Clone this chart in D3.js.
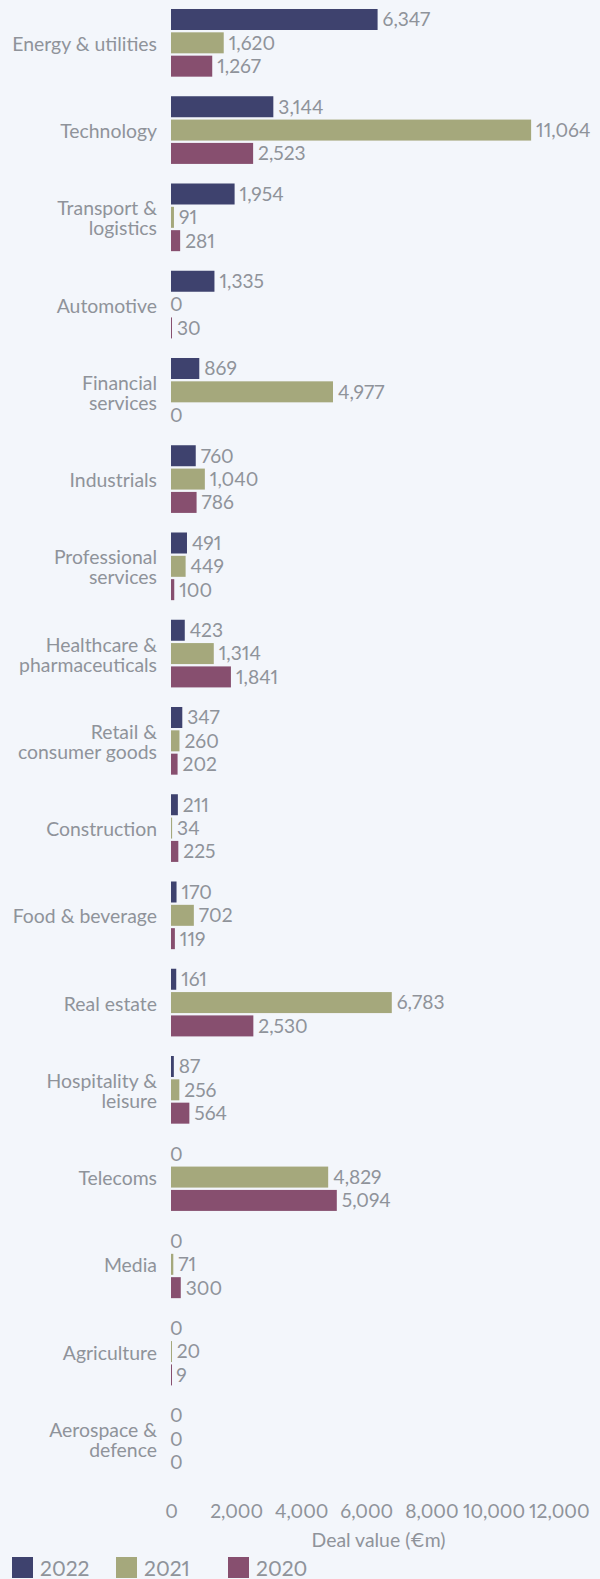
<!DOCTYPE html>
<html>
<head>
<meta charset="utf-8">
<script src="https://cdn.jsdelivr.net/npm/d3@7"></script>
<style>
  html, body { margin: 0; padding: 0; background: #f3f6fb; }
  svg { display: block; }
  text {
    font-family: Lato, "Noto Sans", sans-serif;
    fill: #8f939a;
    font-variant-numeric: proportional-nums;
  }
</style>
</head>
<body>
<svg id="chart" width="600" height="1579"></svg>
<script>
// Sectors (line breaks marked with \n)
const categories = [
  "Energy & utilities", "Technology", "Transport &\nlogistics", "Automotive",
  "Financial\nservices", "Industrials", "Professional\nservices",
  "Healthcare &\npharmaceuticals", "Retail &\nconsumer goods", "Construction",
  "Food & beverage", "Real estate", "Hospitality &\nleisure", "Telecoms",
  "Media", "Agriculture", "Aerospace &\ndefence"
];

// Deal value (€m) per year
const values2022 = [6347, 3144, 1954, 1335, 869, 760, 491, 423, 347, 211, 170, 161, 87, 0, 0, 0, 0];
const values2021 = [1620, 11064, 91, 0, 4977, 1040, 449, 1314, 260, 34, 702, 6783, 256, 4829, 71, 20, 0];
const values2020 = [1267, 2523, 281, 30, 0, 786, 100, 1841, 202, 225, 119, 2530, 564, 5094, 300, 9, 0];

const seriesNames = ["2022", "2021", "2020"];
const seriesColors = ["#3e426e", "#a5a87c", "#874f6f"];
const xTicks = [0, 2000, 4000, 6000, 8000, 10000, 12000];
const axisTitle = "Deal value (€m)";

const seriesValues = [values2022, values2021, values2020];

const svg = d3.select("#chart");
const plotLeft = 171, plotRight = 586;
const plotTop = 0.4, groupStep = 87.25;
const labelSize = 19.4, valueSize = 19.2;

const x = d3.scaleLinear().domain([0, 12750]).range([plotLeft, plotRight]);
const y0 = d3.scaleBand().domain(categories)
  .range([plotTop, plotTop + groupStep * categories.length]);
const y1 = d3.scaleBand().domain(seriesNames)
  .range([7.43, 77.43]).paddingInner(0.1).paddingOuter(0.05);

const fmt = d3.format(",");

// Bars and value labels
const groups = svg.append("g").selectAll("g")
  .data(categories)
  .join("g")
  .attr("transform", d => `translate(0,${y0(d)})`);

groups.each(function(cat, ci) {
  const g = d3.select(this);
  seriesNames.forEach((s, si) => {
    const v = seriesValues[si][ci];
    const yb = y1(s);
    if (v > 0) {
      g.append("rect")
        .attr("x", x(0))
        .attr("y", yb)
        .attr("width", Math.max(1, x(v) - x(0)))
        .attr("height", y1.bandwidth())
        .attr("fill", seriesColors[si]);
    }
    g.append("text")
      .attr("x", x(v) + (v > 0 ? 5 : -1))
      .attr("y", yb + y1.bandwidth() / 2)
      .attr("dy", "0.36em")
      .attr("font-size", valueSize)
      .text(fmt(v));
  });

  // Category label, right-aligned against the plot
  const lines = cat.split("\n");
  const cy = y0.bandwidth() / 2;
  const lh = 20;
  const t = g.append("text")
    .attr("x", 157)
    .attr("text-anchor", "end")
    .attr("font-size", labelSize);
  lines.forEach((ln, li) => {
    t.append("tspan")
      .attr("x", 157)
      .attr("y", cy + (li - (lines.length - 1) / 2) * lh)
      .attr("dy", "0.36em")
      .text(ln);
  });
});

// X axis labels (no line, no ticks)
const axisY = 1511;
const axis = d3.axisBottom(x).tickValues(xTicks).tickFormat(fmt).tickSize(0).tickPadding(0);
const ax = svg.append("g").attr("transform", `translate(0,${axisY})`).call(axis);
ax.select(".domain").remove();
ax.attr("font-family", null).attr("font-size", null);
const tickTexts = ax.selectAll("text")
  .attr("y", 0)
  .attr("dy", "0.36em")
  .attr("font-size", valueSize)
  .attr("fill", null)
  .nodes();

// Keep labels inside the chart edge and clear of each other, working leftwards
let limit = 589;
for (let i = tickTexts.length - 1; i >= 0; i--) {
  const node = tickTexts[i];
  const w = node.getComputedTextLength();
  const tx = x(xTicks[i]);
  const right = tx + w / 2;
  const shift = right > limit ? limit - right : 0;
  d3.select(node).attr("x", shift);
  limit = tx + shift - w / 2 - 4;
}

svg.append("text")
  .attr("x", (plotLeft + plotRight) / 2)
  .attr("y", 1540)
  .attr("dy", "0.36em")
  .attr("text-anchor", "middle")
  .attr("font-size", labelSize)
  .text(axisTitle);

// Legend
const legendX = [12, 116, 228];
const legend = svg.append("g").attr("transform", "translate(0,1557)");
seriesNames.forEach((s, i) => {
  legend.append("rect")
    .attr("x", legendX[i]).attr("y", 0)
    .attr("width", 21).attr("height", 21)
    .attr("fill", seriesColors[i]);
  legend.append("text")
    .attr("x", legendX[i] + 28)
    .attr("y", 11)
    .attr("dy", "0.36em")
    .attr("font-size", 21)
    .text(s);
});
</script>
</body>
</html>
